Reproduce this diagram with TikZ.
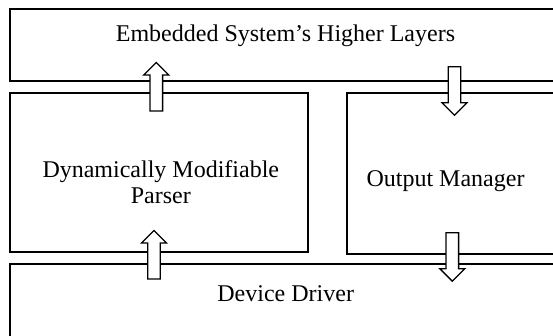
\documentclass[tikz,border=0pt]{standalone}
\usepackage{fontspec}
\setmainfont{Liberation Serif}
\begin{document}
\begin{tikzpicture}[x=1pt,y=-1pt,line width=1.3pt,
  layer/.style={draw, rectangle, inner sep=0pt, outer sep=0pt, anchor=north west},
  caption/.style={font=\fontsize{24}{25.6}\selectfont, inner sep=0pt, anchor=base, align=center},
  flowarrow/.style={draw, fill=white, line join=miter},
  uparrow/.pic={\draw[flowarrow] (-6.3,0) -- (-6.3,-36) -- (-12.5,-36) -- (0,-48.5)
      -- (12.5,-36) -- (6.3,-36) -- (6.3,0) -- cycle;},
  downarrow/.pic={\draw[flowarrow] (-6.3,0) -- (-6.3,36) -- (-12.5,36) -- (0,48.5)
      -- (12.5,36) -- (6.3,36) -- (6.3,0) -- cycle;}]
\useasboundingbox (0,0) rectangle (553,335);
\clip (0,0) rectangle (553,335);

% layers (open towards the right and bottom edges)
\node[layer, minimum width=560pt, minimum height=72pt]  (higher) at (10,9)   {};
\node[layer, minimum width=298pt, minimum height=159pt] (parser) at (10,93)  {};
\node[layer, minimum width=220pt, minimum height=161pt] (output) at (347,93) {};
\node[layer, minimum width=560pt, minimum height=100pt] (driver) at (10,264) {};

% labels (base anchor of a two-line label is its last line)
\node[caption] (higherText) at (285.5,41.7)  {Embedded System’s Higher Layers};
\node[caption] (parserText) at (160.8,203.3) {Dynamically Modifiable\\Parser};
\node[caption] (outputText) at (445.5,186.7) {Output Manager};
\node[caption] (driverText) at (285.7,301.5) {Device Driver};

% data flow between layers
\pic (parserUp)   at (156.3,111)  {uparrow};
\pic (outputIn)   at (454.5,66.7) {downarrow};
\pic (driverUp)   at (154,279)    {uparrow};
\pic (outputDown) at (452.3,232.7){downarrow};
\end{tikzpicture}
\end{document}
